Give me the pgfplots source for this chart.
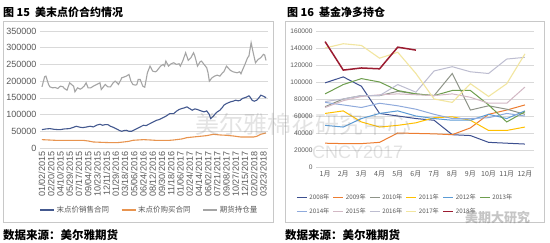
\documentclass[border=0pt]{standalone}
\usepackage{fontspec}
\setmainfont{Liberation Sans}
\newfontfamily\cjk{Noto Sans CJK SC}
\usepackage{pgfplots}
\pgfplotsset{compat=1.18}
\definecolor{txt}{HTML}{595959}
\definecolor{gridc}{HTML}{D9D9D9}
\definecolor{framec}{HTML}{C8C8C8}
\definecolor{sblue}{HTML}{44598F}
\definecolor{sorange}{HTML}{E8944F}
\definecolor{sgray}{HTML}{A5A5A5}
\definecolor{c08}{HTML}{3C4F8F}
\definecolor{c09}{HTML}{ED7D31}
\definecolor{c10}{HTML}{8E9488}
\definecolor{c11}{HTML}{FFC000}
\definecolor{c12}{HTML}{5B9BD5}
\definecolor{c13}{HTML}{6E9E4E}
\definecolor{c14}{HTML}{8FAADC}
\definecolor{c15}{HTML}{D2B8C4}
\definecolor{c16}{HTML}{BDBDD0}
\definecolor{c17}{HTML}{F2E6A0}
\definecolor{c18}{HTML}{9B1B30}
\begin{document}
\begin{tikzpicture}
\path[use as bounding box] (0pt,0pt) rectangle (550pt,243pt);
\fill[white] (0pt,0pt) rectangle (550pt,243pt);
\draw[framec] (3pt,222pt) rectangle (273pt,21pt);
\draw[framec] (285pt,222pt) rectangle (544pt,21pt);
\node[anchor=west,inner sep=0] at (3pt,231pt) {\cjk\bfseries\fontsize{11}{12}\selectfont 图 15\ \ 美末点价合约情况};
\node[anchor=west,inner sep=0] at (287pt,231pt) {\cjk\bfseries\fontsize{11}{12}\selectfont 图 16\ \ 基金净多持仓};
\node[anchor=west,inner sep=0] at (3pt,8pt) {\cjk\bfseries\fontsize{11.5}{12}\selectfont 数据来源：美尔雅期货};
\node[anchor=west,inner sep=0] at (285pt,8pt) {\cjk\bfseries\fontsize{11.5}{12}\selectfont 数据来源：美尔雅期货};

\begin{axis}[at={(40pt,95pt)}, anchor=south west, scale only axis,
  width=228pt, height=117pt,
  xmin=-1.5, xmax=171.5, ymin=0, ymax=350000,
  scaled y ticks=false,
  axis line style={draw=none}, tick style={draw=none},
  ymajorgrids, major grid style={gridc, line width=0.6pt},
  ytick={0,50000,...,350000},
  yticklabels={0,50000,100000,150000,200000,250000,300000,350000},
  yticklabel style={font=\fontsize{9}{10}\selectfont, text=txt},
  ytick pos=left,
  xtick={0,7,...,168},
  xticklabels={01/02/2015,02/20/2015,04/10/2015,05/29/2015,07/17/2015,09/04/2015,10/23/2015,12/11/2015,01/29/2016,03/18/2016,05/06/2016,06/24/2016,08/12/2016,09/30/2016,11/18/2016,01/06/2017,02/24/2017,04/14/2017,06/02/2017,07/21/2017,09/08/2017,10/27/2017,12/15/2017,02/02/2018,03/23/2018},
  xticklabel style={rotate=90, anchor=east, font=\fontsize{9}{10}\selectfont, text=txt},
  xtick pos=bottom,
  legend columns=3,
  legend style={at={(0.48,-0.53)}, anchor=center, draw=none, fill=none,
    font=\cjk\fontsize{7.5}{8}\selectfont, text=txt,
    /tikz/every even column/.append style={column sep=10pt}},
  legend image code/.code={\draw[#1] (0pt,0pt) -- (14pt,0pt);},
]
\draw[gridc, line width=0.8pt] (axis cs:-1.5,0) -- (axis cs:171.5,0);
\addplot[sblue, line width=1.1pt] coordinates {
(0,55000)(3,57000)(6,58000)(9,56000)(12,55000)(14,55000)(17,57000)(21,58000)(24,62000)(26,65000)(29,62000)(31,61000)(34,63000)(36.5,65000)(39,63000)(42,69000)(44,71000)(46,68000)(48,70000)(50,70000)(52,65000)(54,62000)(57,56000)(59,52000)(60.5,50000)(62,52000)(64,53000)(66,50000)(68,50000)(70,54000)(72,58000)(74,62000)(77,68000)(79,67000)(82,73000)(84,77000)(87,83000)(89,85000)(92,91000)(94,95000)(97,103000)(100,103000)(102,110000)(104,115000)(106,118000)(108,120000)(110,123000)(112,118000)(114,113000)(116,117000)(118,115000)(120,112000)(123,108000)(125,111000)(127,100000)(128,88000)(130,95000)(131.6,103000)(133,108000)(135,113000)(137,122000)(138,128000)(140,133000)(143,138000)(145,140000)(147,143000)(149,141000)(150.6,143000)(152,148000)(155,152000)(157,156000)(158,152000)(159.4,143000)(161,140000)(163,143000)(165,152000)(166,158000)(168,155000)(169.6,151000)(170,153000)};
\addlegendentry{末点价销售合同}
\addplot[sorange, line width=1.1pt] coordinates {
(0,25000)(5,24000)(10,23000)(15,23000)(19,23000)(25,23000)(31,23000)(35,21000)(39,18000)(45,17000)(52,16000)(57,16000)(62,18000)(66,20000)(69,23000)(73,24000)(77,25000)(82,24000)(86,23000)(90,23000)(94,23000)(97,23000)(100,24000)(102,25000)(106,27000)(110,31000)(115,33000)(120,35000)(125,37000)(130,41000)(135,39000)(140,38000)(145,36000)(150.6,33000)(155,33000)(160.7,33000)(163,35000)(166,41000)(168,43000)(170,45000)};
\addlegendentry{末点价购买合同}
\addplot[sgray, line width=1.1pt] coordinates {
(0,183000)(2,213000)(3,215000)(5,190000)(6,183000)(8,180000)(10,181000)(12,178000)(14,185000)(16,183000)(17,178000)(19,173000)(21,195000)(23,188000)(24,185000)(25,168000)(27,180000)(29,176000)(30,178000)(32,185000)(33.5,195000)(35,180000)(37,180000)(39,185000)(41.5,190000)(44,195000)(45,175000)(47,185000)(48,190000)(50,183000)(52,183000)(54,195000)(55.5,200000)(57,195000)(58,190000)(60,205000)(60.5,210000)(62,212000)(64,215000)(66,220000)(67.5,200000)(69,190000)(71,188000)(72,190000)(73,205000)(74.5,205000)(76.5,185000)(78,182000)(80,225000)(82,245000)(84,230000)(86,228000)(87,230000)(89,240000)(90,245000)(92,250000)(93,245000)(94,260000)(96,245000)(98,252000)(100,255000)(102,250000)(104,252000)(105,245000)(107,262000)(109,285000)(111,262000)(113,270000)(115,285000)(116,275000)(118,245000)(120,258000)(121,260000)(123,250000)(125,240000)(126,225000)(127,200000)(129,210000)(131,215000)(133,218000)(135,215000)(137,225000)(138,228000)(140,245000)(143,232000)(145,228000)(148,225000)(150,228000)(151,222000)(152,232000)(154,250000)(156,270000)(157,275000)(158.7,315000)(160,290000)(162,255000)(164,265000)(166,270000)(168,280000)(169,278000)(170,262000)};
\addlegendentry{期货持仓量}
\end{axis}

\begin{axis}[at={(316pt,76pt)}, anchor=south west, scale only axis,
  width=218pt, height=136pt,
  xmin=0.5, xmax=12.5, ymin=0, ymax=160000,
  scaled y ticks=false,
  axis line style={draw=none}, tick style={draw=none},
  ymajorgrids, major grid style={gridc, line width=0.6pt},
  ytick={0,20000,...,160000},
  yticklabels={0,20000,40000,60000,80000,100000,120000,140000,160000},
  yticklabel style={font=\fontsize{6.6}{7}\selectfont, text=txt},
  ytick pos=left,
  xtick={1,...,12},
  xticklabels={1月,2月,3月,4月,5月,6月,7月,8月,9月,10月,11月,12月},
  xticklabel style={font=\cjk\fontsize{7}{8}\selectfont, text=txt},
  xtick pos=bottom,
  legend columns=6,
  legend style={at={(0.41,-0.276)}, anchor=center, draw=none, fill=none,
    font=\cjk\fontsize{6.2}{7}\selectfont, text=txt,
    /tikz/every even column/.append style={column sep=1.5pt},
    /tikz/every odd column/.append style={inner xsep=1pt},
    row sep=3pt},
  legend image code/.code={\draw[#1] (0pt,0pt) -- (10pt,0pt);},
]
\draw[gridc, line width=0.8pt] (axis cs:0.5,0) -- (axis cs:12.5,0);
\addplot[c08, line width=1pt] coordinates {(1,99000)(2,106000)(3,95000)(4,63000)(5,60000)(6,57000)(7,55000)(8,38000)(9,37000)(10,29000)(11,28000)(12,27000)};
\addlegendentry{2008年}
\addplot[c09, line width=1pt] coordinates {(1,28000)(2,27500)(3,27500)(4,29000)(5,40000)(6,39500)(7,39000)(8,38000)(9,46000)(10,62000)(11,67000)(12,73000)};
\addlegendentry{2009年}
\addplot[c10, line width=1pt] coordinates {(1,71000)(2,80000)(3,84000)(4,84000)(5,89000)(6,86000)(7,84000)(8,110000)(9,67000)(10,72000)(11,68000)(12,62000)};
\addlegendentry{2010年}
\addplot[c11, line width=1pt] coordinates {(1,63000)(2,66000)(3,53000)(4,47000)(5,49000)(6,52000)(7,58000)(8,59000)(9,55000)(10,43000)(11,43000)(12,47000)};
\addlegendentry{2011年}
\addplot[c12, line width=1pt] coordinates {(1,49000)(2,47000)(3,57000)(4,63000)(5,66000)(6,60000)(7,57000)(8,55000)(9,55000)(10,62000)(11,57000)(12,66000)};
\addlegendentry{2012年}
\addplot[c13, line width=1pt] coordinates {(1,86000)(2,97000)(3,104000)(4,100000)(5,90000)(6,86000)(7,84000)(8,90000)(9,90000)(10,73000)(11,53000)(12,65000)};
\addlegendentry{2013年}
\addplot[c14, line width=1pt] coordinates {(1,76000)(2,73000)(3,70000)(4,75000)(5,72000)(6,68000)(7,62000)(8,57000)(9,57000)(10,58000)(11,63000)(12,60000)};
\addlegendentry{2014年}
\addplot[c15, line width=1pt] coordinates {(1,70000)(2,78000)(3,83000)(4,85000)(5,86000)(6,85000)(7,84000)(8,86000)(9,82000)(10,75000)(11,75000)(12,94000)};
\addlegendentry{2015年}
\addplot[c16, line width=1pt] coordinates {(1,77000)(2,80000)(3,84000)(4,84000)(5,97000)(6,88000)(7,113000)(8,118000)(9,112000)(10,110000)(11,127000)(12,129000)};
\addlegendentry{2016年}
\addplot[c17, line width=1.1pt] coordinates {(1,140000)(2,145000)(3,143000)(4,128000)(5,135000)(6,110000)(7,80000)(8,76000)(9,98000)(10,83000)(11,98000)(12,133000)};
\addlegendentry{2017年}
\addplot[c18, line width=1.5pt] coordinates {(1,147500)(2,114000)(3,116500)(4,115500)(5,141000)(6,137500)};
\addlegendentry{2018年}
\end{axis}

\node[opacity=0.22, text=gray, anchor=west, inner sep=0] at (195pt,119pt) {\cjk\fontsize{24}{26}\selectfont 美尔雅棉花研究中心};
\node[opacity=0.22, text=gray, anchor=west, inner sep=0] at (312pt,91pt) {\fontsize{18}{20}\selectfont CNCY2017};
\node[opacity=0.45, text=gray, anchor=west, inner sep=0] at (465pt,25pt) {\cjk\bfseries\fontsize{13}{14}\selectfont 美期大研究};
\end{tikzpicture}
\end{document}
